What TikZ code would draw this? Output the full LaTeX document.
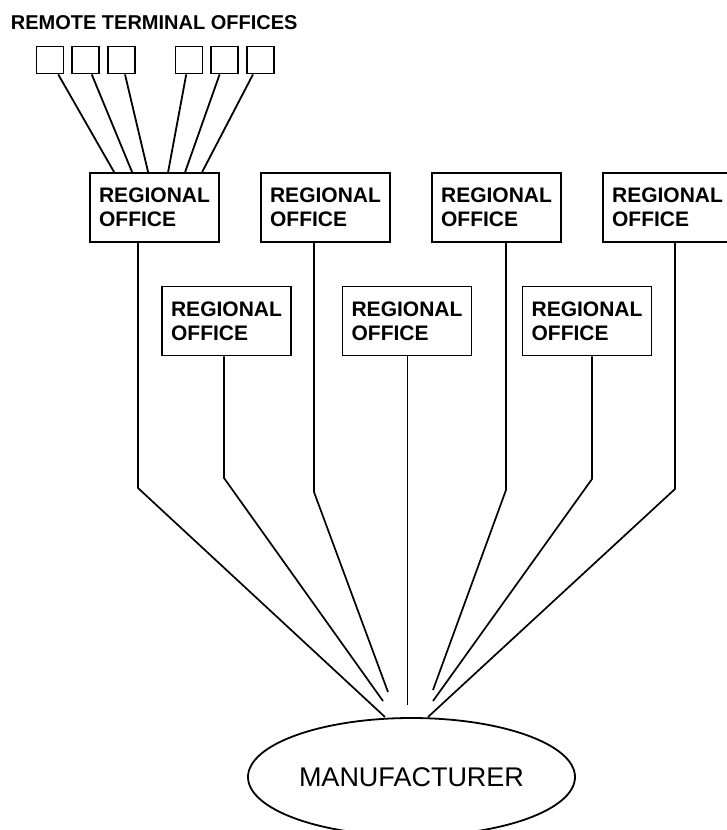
\documentclass[tikz,border=0pt]{standalone}
\usepackage{fontspec}
\setmainfont{Liberation Sans}
\usepackage{tikz}
\usetikzlibrary{calc, positioning, shapes.geometric}
\tikzset{
    office/.style ={rectangle, draw, minimum width=129pt, minimum height=69pt, align=left, inner sep=0pt, font=\bfseries\fontsize{21}{24}\selectfont}, % the regional office boxes
    terminal/.style ={rectangle, draw, minimum size=27pt, inner sep=0pt}, % small empty squares for the remote terminals
    maker/.style ={ellipse, draw, minimum width=327pt, minimum height=118pt, inner sep=0pt, font=\fontsize{27}{30}\selectfont},
    trunk/.style ={line width=1.7pt},
    thin trunk/.style ={line width=1pt}
}

\begin{document}
\begin{tikzpicture}[x=1pt, y=-1pt, line width=1.8pt, node distance=7pt]
    \useasboundingbox (0,0) rectangle (726,830);
    \node[anchor=west, inner sep=0pt, font=\bfseries\fontsize{20}{24}\selectfont] (title) at (10,22.5) {REMOTE TERMINAL OFFICES};
    % terminals
    \node[terminal] (rt1) at (50,60) {};
    \node[terminal] (rt2) [right =of rt1] {};
    \node[terminal] (rt3) [right =of rt2] {};
    \node[terminal] (rt4) [right =38.5pt of rt3] {};
    \node[terminal] (rt5) [right =of rt4] {};
    \node[terminal] (rt6) [right =of rt5] {};
    % regional offices, upper and lower row
    \node[office] (reg1) at (154.5,207.5) {REGIONAL\\OFFICE};
    \node[office] (reg2) at (325.5,207.5) {REGIONAL\\OFFICE};
    \node[office] (reg3) at (496.5,207.5) {REGIONAL\\OFFICE};
    \node[office] (reg4) at (667.5,207.5) {REGIONAL\\OFFICE};
    \node[office] (reg5) at (226.5,321) {REGIONAL\\OFFICE};
    \node[office] (reg6) at (407,321) {REGIONAL\\OFFICE};
    \node[office] (reg7) at (587,321) {REGIONAL\\OFFICE};
    \node[maker] (mfr) at (411.5,777) {MANUFACTURER};
    % knees and loose ends of the trunk lines
    \coordinate (k1) at (138,488);
    \coordinate (k2) at (224,478);
    \coordinate (k3) at (314,492);
    \coordinate (k5) at (506,490);
    \coordinate (k6) at (592,479);
    \coordinate (k7) at (675,489);
    \coordinate (e1) at (385,717);
    \coordinate (e2) at (383,701);
    \coordinate (e3) at (388,692);
    \coordinate (e4) at (407,705);
    \coordinate (e5) at (433,690);
    \coordinate (e6) at (433,701);
    \coordinate (e7) at (428,717);
    % terminals into the first regional office
    \foreach \i/\d in {1/25,2/43,3/59,4/79,5/96,6/113}
        \draw (rt\i) -- ([xshift=\d pt]reg1.north west);
    % trunk lines down to the manufacturer
    \draw[trunk] (reg1.south -| k1) -- (k1) -- (e1);
    \draw[trunk] (reg5.south -| k2) -- (k2) -- (e2);
    \draw[trunk] (reg2.south -| k3) -- (k3) -- (e3);
    \draw[thin trunk] (reg6.south) -- (e4);
    \draw[trunk] (reg3.south -| k5) -- (k5) -- (e5);
    \draw[trunk] (reg7.south -| k6) -- (k6) -- (e6);
    \draw[trunk] (reg4.south -| k7) -- (k7) -- (e7);
\end{tikzpicture}
\end{document}
